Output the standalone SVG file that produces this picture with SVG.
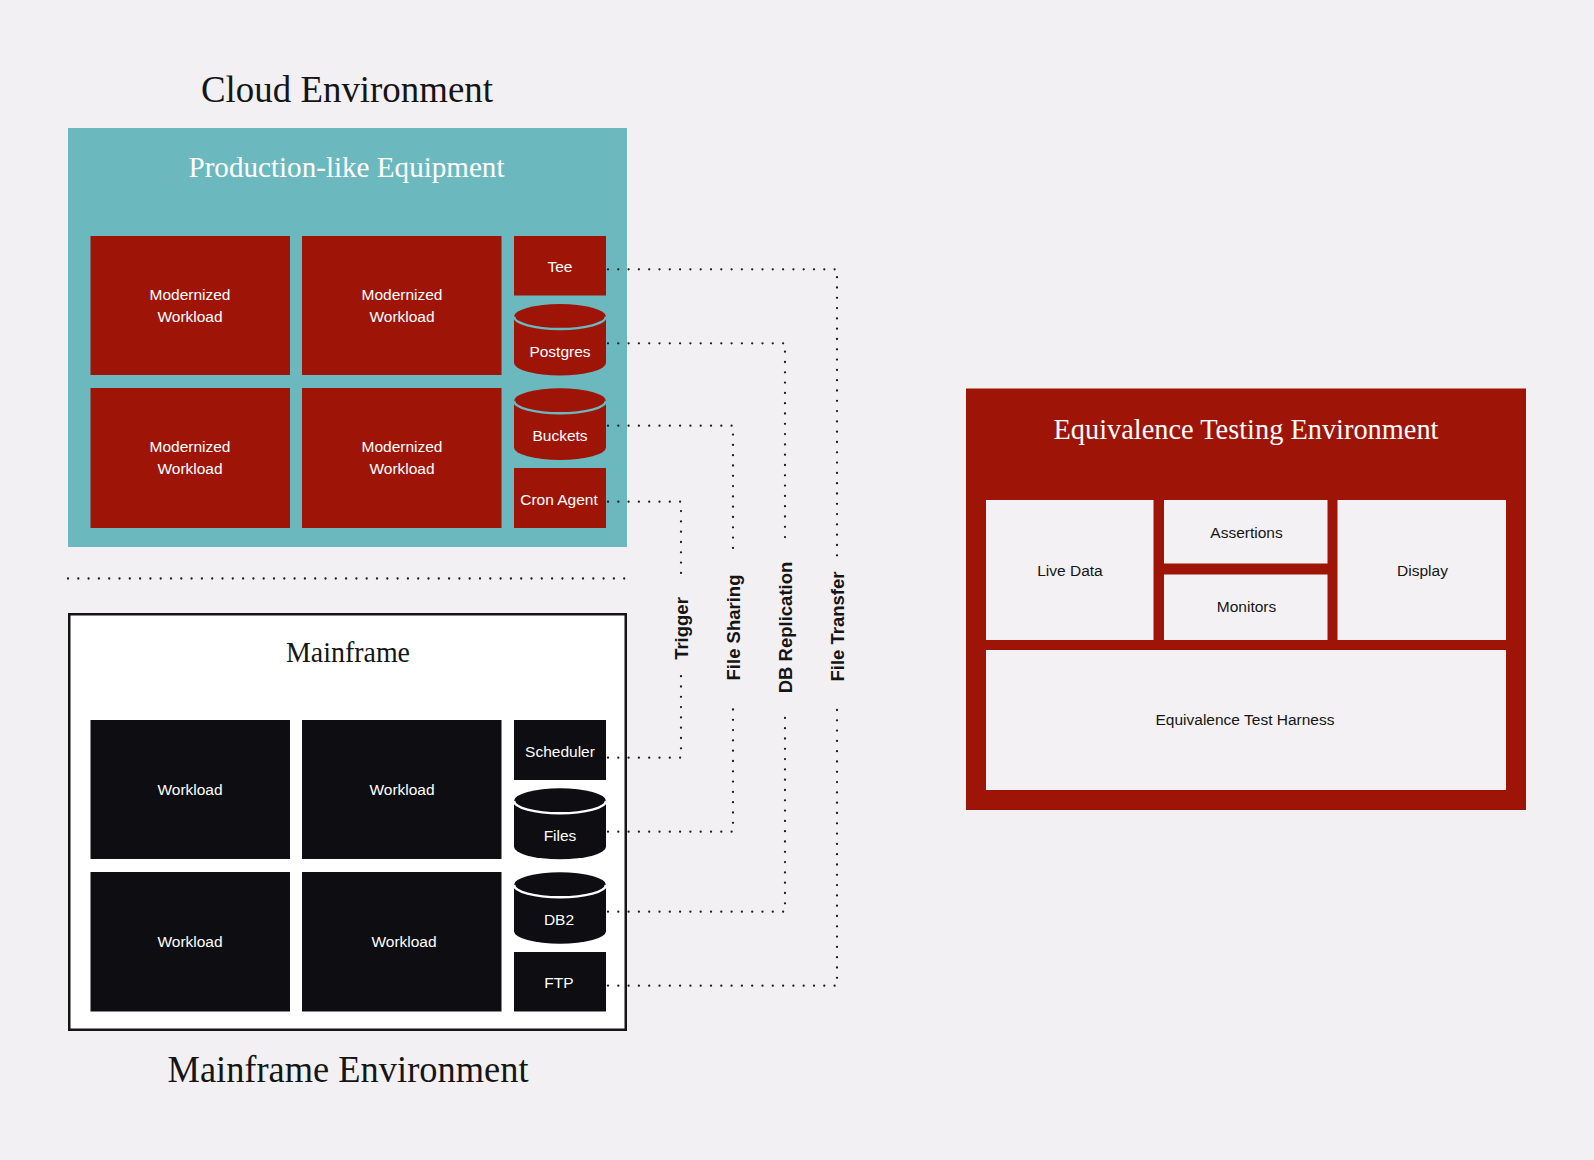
<svg xmlns="http://www.w3.org/2000/svg" width="1594" height="1160" viewBox="0 0 1594 1160">
<style>
.bg{fill:#f2f0f3}
.teal{fill:#6bb9bf}
.red{fill:#9e1508}
.blk{fill:#0e0d11}
.light{fill:#f3f1f4}
.title{font-family:"Liberation Serif","Times New Roman",serif;fill:#151515}
.wtitle{font-family:"Liberation Serif","Times New Roman",serif;fill:#ffffff}
.lbl{font-family:"Liberation Sans",Arial,sans-serif;font-size:15.5px;fill:#ffffff;text-anchor:middle}
.dlbl{font-family:"Liberation Sans",Arial,sans-serif;font-size:15.5px;fill:#151515;text-anchor:middle}
.clbl{font-family:"Liberation Sans",Arial,sans-serif;font-size:18.5px;font-weight:bold;fill:#151515;text-anchor:middle}
.dots{fill:none;stroke:#1c1c1c;stroke-width:2.3;stroke-linecap:round;stroke-dasharray:0 10.3}
</style>
<rect class="bg" x="0" y="0" width="1594" height="1160"/>

<text class="title" x="347" y="102" font-size="37.5" text-anchor="middle" textLength="292" lengthAdjust="spacingAndGlyphs">Cloud Environment</text>
<text class="title" x="348" y="1082" font-size="37.5" text-anchor="middle" textLength="361" lengthAdjust="spacingAndGlyphs">Mainframe Environment</text>

<g id="cloud">
<rect class="teal" x="68" y="128" width="559" height="419"/>
<text class="wtitle" x="346.5" y="177" font-size="29.5" text-anchor="middle" textLength="316" lengthAdjust="spacingAndGlyphs">Production-like Equipment</text>
</g>
<g id="mw1"><rect class="red" x="90.5" y="236" width="199.5" height="139"/><text class="lbl" x="190" y="299.5">Modernized</text><text class="lbl" x="190" y="321.5">Workload</text></g>
<g id="mw2"><rect class="red" x="302" y="236" width="199.5" height="139"/><text class="lbl" x="402" y="299.5">Modernized</text><text class="lbl" x="402" y="321.5">Workload</text></g>
<g id="mw3"><rect class="red" x="90.5" y="388" width="199.5" height="140"/><text class="lbl" x="190" y="451.5">Modernized</text><text class="lbl" x="190" y="473.5">Workload</text></g>
<g id="mw4"><rect class="red" x="302" y="388" width="199.5" height="140"/><text class="lbl" x="402" y="451.5">Modernized</text><text class="lbl" x="402" y="473.5">Workload</text></g>
<g id="tee"><rect class="red" x="514" y="236" width="92" height="59.5"/><text class="lbl" x="560" y="272">Tee</text></g>
<g id="postgres">
<path class="red" d="M514,316.5 A46,12.5 0 0 1 606,316.5 V363 A46,12.5 0 0 1 514,363 Z"/>
<path d="M514,316.5 A46,12.5 0 0 0 606,316.5" fill="none" stroke="#6bb9bf" stroke-width="2.5"/>
<text class="lbl" x="560" y="356.5">Postgres</text>
</g>
<g id="buckets">
<path class="red" d="M514,400.8 A46,12.5 0 0 1 606,400.8 V447.5 A46,12.5 0 0 1 514,447.5 Z"/>
<path d="M514,400.8 A46,12.5 0 0 0 606,400.8" fill="none" stroke="#6bb9bf" stroke-width="2.5"/>
<text class="lbl" x="560" y="440.5">Buckets</text>
</g>
<g id="cron"><rect class="red" x="514" y="468" width="92" height="60"/><text class="lbl" x="559" y="504.5">Cron Agent</text></g>

<g id="mainframe">
<rect x="69.25" y="614.25" width="556.5" height="415.5" fill="#ffffff" stroke="#151515" stroke-width="2.5"/>
<text class="title" x="348" y="661.5" font-size="29" text-anchor="middle" textLength="124" lengthAdjust="spacingAndGlyphs">Mainframe</text>
</g>
<g id="w1"><rect class="blk" x="90.5" y="720" width="199.5" height="139"/><text class="lbl" x="190" y="794.5">Workload</text></g>
<g id="w2"><rect class="blk" x="302" y="720" width="199.5" height="139"/><text class="lbl" x="402" y="794.5">Workload</text></g>
<g id="w3"><rect class="blk" x="90.5" y="872" width="199.5" height="139.5"/><text class="lbl" x="190" y="947">Workload</text></g>
<g id="w4"><rect class="blk" x="302" y="872" width="199.5" height="139.5"/><text class="lbl" x="404" y="947">Workload</text></g>
<g id="scheduler"><rect class="blk" x="514" y="720" width="92" height="60"/><text class="lbl" x="560" y="756.5">Scheduler</text></g>
<g id="files">
<path class="blk" d="M514,800.8 A46,12.5 0 0 1 606,800.8 V846.8 A46,12.5 0 0 1 514,846.8 Z"/>
<path d="M514,800.8 A46,12.5 0 0 0 606,800.8" fill="none" stroke="#ffffff" stroke-width="2.5"/>
<text class="lbl" x="560" y="840.5">Files</text>
</g>
<g id="db2">
<path class="blk" d="M514,884.8 A46,12.5 0 0 1 606,884.8 V931.2 A46,12.5 0 0 1 514,931.2 Z"/>
<path d="M514,884.8 A46,12.5 0 0 0 606,884.8" fill="none" stroke="#ffffff" stroke-width="2.5"/>
<text class="lbl" x="559" y="924.5">DB2</text>
</g>
<g id="ftp"><rect class="blk" x="514" y="952" width="92" height="59.5"/><text class="lbl" x="559" y="988">FTP</text></g>

<g id="equivalence">
<rect class="red" x="966" y="388.5" width="560" height="421.5"/>
<text class="wtitle" x="1246" y="439" font-size="30" text-anchor="middle" textLength="385" lengthAdjust="spacingAndGlyphs">Equivalence Testing Environment</text>
</g>
<g id="livedata"><rect class="light" x="986" y="500" width="167.5" height="140"/><text class="dlbl" x="1070" y="576">Live Data</text></g>
<g id="assertions"><rect class="light" x="1164" y="500" width="163.5" height="63.5"/><text class="dlbl" x="1246.5" y="538">Assertions</text></g>
<g id="monitors"><rect class="light" x="1164" y="574.5" width="163.5" height="65.5"/><text class="dlbl" x="1246.5" y="612">Monitors</text></g>
<g id="display"><rect class="light" x="1337.5" y="500" width="168.5" height="140"/><text class="dlbl" x="1422.5" y="576">Display</text></g>
<g id="harness"><rect class="light" x="986" y="650" width="520" height="140"/><text class="dlbl" x="1245" y="724.5">Equivalence Test Harness</text></g>

<g id="connectors">
<path class="dots" d="M68,578.5 H628"/>
<path class="dots" d="M608,269.3 H837 V556"/>
<path class="dots" d="M608,985.7 H837 V700"/>
<path class="dots" d="M608,343.3 H785 V546"/>
<path class="dots" d="M608,911.7 H785 V709"/>
<path class="dots" d="M608,425.7 H733 V557"/>
<path class="dots" d="M608,831.7 H733 V700"/>
<path class="dots" d="M608,501.7 H681 V583"/>
<path class="dots" d="M608,757.7 H681 V675"/>
<text class="clbl" transform="translate(687.5,628.5) rotate(-90)">Trigger</text>
<text class="clbl" transform="translate(739.5,627.5) rotate(-90)">File Sharing</text>
<text class="clbl" transform="translate(791.5,627.5) rotate(-90)">DB Replication</text>
<text class="clbl" transform="translate(843.5,626.5) rotate(-90)">File Transfer</text>
</g>
</svg>
